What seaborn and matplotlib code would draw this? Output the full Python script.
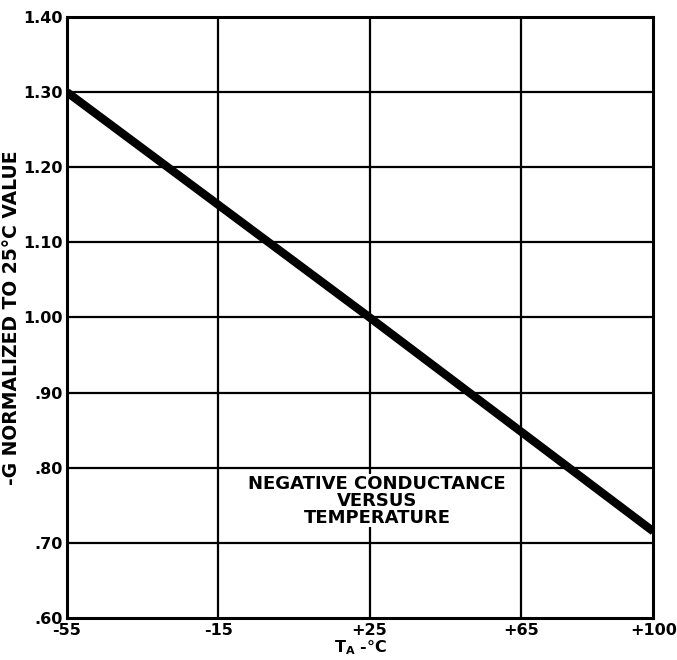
import matplotlib
matplotlib.use("Agg")
import matplotlib.pyplot as plt
import seaborn as sns
import pandas as pd
import numpy as np

temps = [-55, 25, 100]
values = [1.30, 1.00, 0.715]
xtick_pos = [-55, -15, 25, 65, 100]
xtick_labels = ["-55", "-15", "+25", "+65", "+100"]
xgrid_pos = [-15, 25, 65]
ytick_pos = [0.60, 0.70, 0.80, 0.90, 1.00, 1.10, 1.20, 1.30, 1.40]
ytick_labels = [".60", ".70", ".80", ".90", "1.00", "1.10", "1.20", "1.30", "1.40"]

sns.set_theme(style="white")
plt.rcParams['font.family'] = ['DejaVu Sans']
plt.rcParams['font.weight'] = 'bold'
plt.rcParams['text.color'] = 'black'
plt.rcParams['axes.labelcolor'] = 'black'
plt.rcParams['xtick.color'] = 'black'
plt.rcParams['ytick.color'] = 'black'

fig = plt.figure(figsize=(6.77, 6.60), dpi=100)
ax = fig.add_axes([0.099, 0.064, 0.866, 0.910])

df = pd.DataFrame({"T": temps, "G": values})

for x in xgrid_pos:
    ax.axvline(x, color="black", lw=1.6, zorder=1)
for y in ytick_pos[1:-1]:
    ax.axhline(y, color="black", lw=1.6, zorder=1)

sns.lineplot(data=df, x="T", y="G", ax=ax, color="black", lw=6.0, zorder=3,
             solid_capstyle="butt")

ax.set_xlim(-55, 100)
ax.set_ylim(0.60, 1.40)
ax.set_xticks(xtick_pos)
ax.set_xticklabels(xtick_labels, fontsize=11.5, fontweight="bold")
ax.set_yticks(ytick_pos)
ax.set_yticklabels(ytick_labels, fontsize=11.5, fontweight="bold")
ax.tick_params(axis="x", length=0, pad=4)
ax.tick_params(axis="y", length=0, pad=3)
for s in ax.spines.values():
    s.set_color("black")
    s.set_linewidth(2.2)

ax.set_xlabel("T$_\\mathbf{A}$ -°C", fontsize=11.5, fontweight="bold", labelpad=0)
ax.set_ylabel("-G NORMALIZED TO 25°C VALUE", fontsize=13.5, fontweight="bold", labelpad=2)

ax.text(27, 0.756, "NEGATIVE CONDUCTANCE\nVERSUS\nTEMPERATURE", ha="center", va="center",
        fontsize=13, fontweight="bold", linespacing=0.92, zorder=4,
        bbox=dict(facecolor="white", edgecolor="none", pad=0.5))

fig.savefig("out.png", dpi=100)
